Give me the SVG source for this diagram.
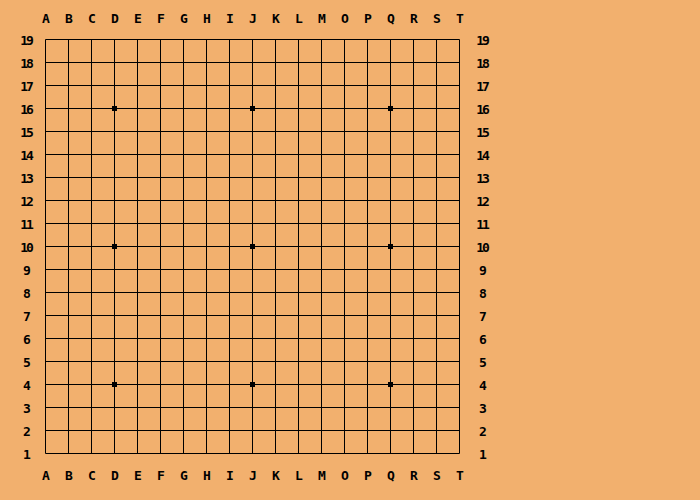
<svg xmlns="http://www.w3.org/2000/svg" width="700" height="500" viewBox="0 0 700 500">
<style>
.bg{fill:#F2B06E}
.grid line{stroke:#000;stroke-width:1}
.star{fill:#000}
.lbl{font-family:"DejaVu Sans Mono","Liberation Mono",monospace;font-weight:bold;font-size:13px;fill:#000;text-anchor:middle}
.num{letter-spacing:-2px}
</style>
<rect class="bg" x="0" y="0" width="700" height="500"/>
<g id="grid" class="grid">
<line x1="45.5" y1="39.5" x2="45.5" y2="453.5"/><line x1="68.5" y1="39.5" x2="68.5" y2="453.5"/><line x1="91.5" y1="39.5" x2="91.5" y2="453.5"/><line x1="114.5" y1="39.5" x2="114.5" y2="453.5"/><line x1="137.5" y1="39.5" x2="137.5" y2="453.5"/><line x1="160.5" y1="39.5" x2="160.5" y2="453.5"/><line x1="183.5" y1="39.5" x2="183.5" y2="453.5"/><line x1="206.5" y1="39.5" x2="206.5" y2="453.5"/><line x1="229.5" y1="39.5" x2="229.5" y2="453.5"/><line x1="252.5" y1="39.5" x2="252.5" y2="453.5"/><line x1="275.5" y1="39.5" x2="275.5" y2="453.5"/><line x1="298.5" y1="39.5" x2="298.5" y2="453.5"/><line x1="321.5" y1="39.5" x2="321.5" y2="453.5"/><line x1="344.5" y1="39.5" x2="344.5" y2="453.5"/><line x1="367.5" y1="39.5" x2="367.5" y2="453.5"/><line x1="390.5" y1="39.5" x2="390.5" y2="453.5"/><line x1="413.5" y1="39.5" x2="413.5" y2="453.5"/><line x1="436.5" y1="39.5" x2="436.5" y2="453.5"/><line x1="459.5" y1="39.5" x2="459.5" y2="453.5"/>
<line x1="45.5" y1="39.5" x2="459.5" y2="39.5"/><line x1="45.5" y1="62.5" x2="459.5" y2="62.5"/><line x1="45.5" y1="85.5" x2="459.5" y2="85.5"/><line x1="45.5" y1="108.5" x2="459.5" y2="108.5"/><line x1="45.5" y1="131.5" x2="459.5" y2="131.5"/><line x1="45.5" y1="154.5" x2="459.5" y2="154.5"/><line x1="45.5" y1="177.5" x2="459.5" y2="177.5"/><line x1="45.5" y1="200.5" x2="459.5" y2="200.5"/><line x1="45.5" y1="223.5" x2="459.5" y2="223.5"/><line x1="45.5" y1="246.5" x2="459.5" y2="246.5"/><line x1="45.5" y1="269.5" x2="459.5" y2="269.5"/><line x1="45.5" y1="292.5" x2="459.5" y2="292.5"/><line x1="45.5" y1="315.5" x2="459.5" y2="315.5"/><line x1="45.5" y1="338.5" x2="459.5" y2="338.5"/><line x1="45.5" y1="361.5" x2="459.5" y2="361.5"/><line x1="45.5" y1="384.5" x2="459.5" y2="384.5"/><line x1="45.5" y1="407.5" x2="459.5" y2="407.5"/><line x1="45.5" y1="430.5" x2="459.5" y2="430.5"/><line x1="45.5" y1="453.5" x2="459.5" y2="453.5"/>
</g>
<g id="stars" class="star">
<rect x="112" y="106" width="5" height="5"/><rect x="250" y="106" width="5" height="5"/><rect x="388" y="106" width="5" height="5"/>
<rect x="112" y="244" width="5" height="5"/><rect x="250" y="244" width="5" height="5"/><rect x="388" y="244" width="5" height="5"/>
<rect x="112" y="382" width="5" height="5"/><rect x="250" y="382" width="5" height="5"/><rect x="388" y="382" width="5" height="5"/>
</g>
<g id="top-labels" class="lbl">
<text x="46" y="23">A</text><text x="69" y="23">B</text><text x="92" y="23">C</text><text x="115" y="23">D</text><text x="138" y="23">E</text><text x="161" y="23">F</text><text x="184" y="23">G</text><text x="207" y="23">H</text><text x="230" y="23">I</text><text x="253" y="23">J</text><text x="276" y="23">K</text><text x="299" y="23">L</text><text x="322" y="23">M</text><text x="345" y="23">O</text><text x="368" y="23">P</text><text x="391" y="23">Q</text><text x="414" y="23">R</text><text x="437" y="23">S</text><text x="460" y="23">T</text>
</g>
<g id="bottom-labels" class="lbl">
<text x="46" y="480">A</text><text x="69" y="480">B</text><text x="92" y="480">C</text><text x="115" y="480">D</text><text x="138" y="480">E</text><text x="161" y="480">F</text><text x="184" y="480">G</text><text x="207" y="480">H</text><text x="230" y="480">I</text><text x="253" y="480">J</text><text x="276" y="480">K</text><text x="299" y="480">L</text><text x="322" y="480">M</text><text x="345" y="480">O</text><text x="368" y="480">P</text><text x="391" y="480">Q</text><text x="414" y="480">R</text><text x="437" y="480">S</text><text x="460" y="480">T</text>
</g>
<g id="left-labels" class="lbl num">
<text x="26" y="45">19</text><text x="26" y="68">18</text><text x="26" y="91">17</text><text x="26" y="114">16</text><text x="26" y="137">15</text><text x="26" y="160">14</text><text x="26" y="183">13</text><text x="26" y="206">12</text><text x="26" y="229">11</text><text x="26" y="252">10</text><text x="26" y="275">9</text><text x="26" y="298">8</text><text x="26" y="321">7</text><text x="26" y="344">6</text><text x="26" y="367">5</text><text x="26" y="390">4</text><text x="26" y="413">3</text><text x="26" y="436">2</text><text x="26" y="459">1</text>
</g>
<g id="right-labels" class="lbl num">
<text x="482" y="45">19</text><text x="482" y="68">18</text><text x="482" y="91">17</text><text x="482" y="114">16</text><text x="482" y="137">15</text><text x="482" y="160">14</text><text x="482" y="183">13</text><text x="482" y="206">12</text><text x="482" y="229">11</text><text x="482" y="252">10</text><text x="482" y="275">9</text><text x="482" y="298">8</text><text x="482" y="321">7</text><text x="482" y="344">6</text><text x="482" y="367">5</text><text x="482" y="390">4</text><text x="482" y="413">3</text><text x="482" y="436">2</text><text x="482" y="459">1</text>
</g>
</svg>
